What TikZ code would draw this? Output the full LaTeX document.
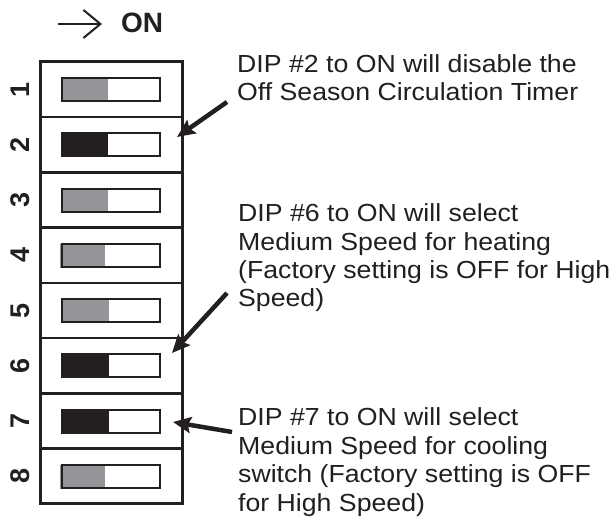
\documentclass[tikz,border=0pt]{standalone}
\usepackage{fontspec}
\setmainfont{Liberation Sans}
\newfontfamily\descfont[FakeStretch=1.08]{Liberation Sans}
\usetikzlibrary{arrows.meta}
\definecolor{swgray}{HTML}{939598}
\definecolor{swblack}{HTML}{231F20}
\begin{document}
\begin{tikzpicture}[x=1pt,y=-1pt,
  rowbox/.style={draw=swblack,line width=2.5pt,minimum width=142pt,minimum height=55.25pt,inner sep=0,outer sep=0},
  slotbox/.style={draw=swblack,line width=2pt,minimum width=98pt,minimum height=23pt,inner sep=0,outer sep=0},
  numlabel/.style={font=\fontsize{27}{27}\selectfont\bfseries,rotate=90,inner sep=0,text=swblack},
  desc/.style={font=\descfont\fontsize{24.7}{28.4}\selectfont,align=left,inner sep=0,anchor=base west,text=swblack},
  pointer/.style={line width=4.5pt,draw=swblack,-{Stealth[length=18pt,width=16pt,inset=3pt]}}
]
\useasboundingbox[fill=white] (0,0) rectangle (611,526);
% header
\coordinate (hs) at (58,24);
\coordinate (he) at (102,24);
\draw[line width=2pt,draw=swblack,-{Straight Barb[length=17pt,width=28pt,line width=2pt]}] (hs) -- (he);
\node[font=\fontsize{28}{28}\selectfont\bfseries,anchor=base west,inner sep=0,text=swblack] (on) at (121,33) {ON};
% rows
\foreach \i in {1,...,8}{
  \pgfmathsetmacro{\yc}{62+55.25*(\i-0.5)}
  \node[rowbox] (r\i) at (111,\yc) {};
  \node[numlabel] (n\i) at (20,\yc) {\i};
}
% slots with fills
\foreach \i/\c/\xa/\xb in {1/swgray/63/108,2/swblack/62/108,3/swgray/63/108,4/swgray/60/105,5/swgray/63/109,6/swblack/62/109,7/swblack/62/109,8/swgray/60/105}{
  \pgfmathsetmacro{\yc}{62+55.25*(\i-0.5)}
  \fill[\c] (\xa,\yc-11.5) rectangle (\xb,\yc+12.5);
  \node[slotbox] (s\i) at (111,\yc) {};
}
\draw[line width=3pt,draw=swblack] (r1.north west) rectangle (r8.south east);
% texts (anchor = baseline of last line)
\node[desc] (t1) at (237,100.7) {DIP \#2 to ON will disable the\\Off Season Circulation Timer};
\node[desc] (t2) at (238,306.9) {DIP \#6 to ON will select\\Medium Speed for heating\\(Factory setting is OFF for High\\Speed)};
\node[desc] (t3) at (238,511.2) {DIP \#7 to ON will select\\Medium Speed for cooling\\switch (Factory setting is OFF\\for High Speed)};
% pointers
\coordinate (a1) at (227,102);
\coordinate (b1) at (177,137);
\coordinate (a2) at (227,293);
\coordinate (b2) at (172,353);
\coordinate (a3) at (232,432);
\coordinate (b3) at (173,422);
\draw[pointer] (a1) -- (b1);
\draw[pointer] (a2) -- (b2);
\draw[pointer] (a3) -- (b3);
\end{tikzpicture}
\end{document}
